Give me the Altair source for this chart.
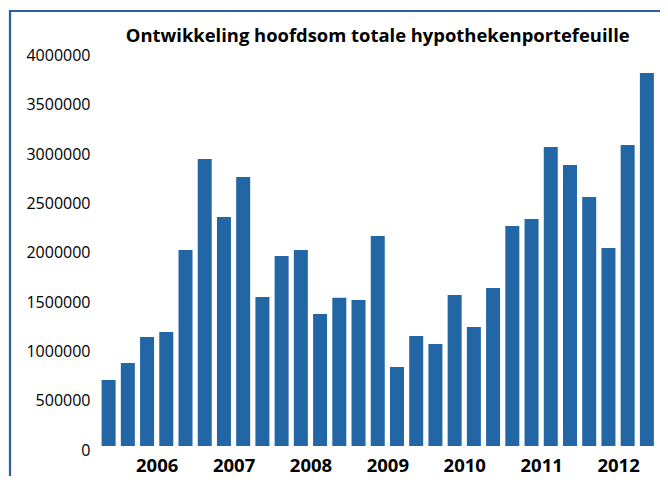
import json
import altair as alt
import pandas as pd

quarters = ["2005-Q4",
            "2006-Q1", "2006-Q2", "2006-Q3", "2006-Q4",
            "2007-Q1", "2007-Q2", "2007-Q3", "2007-Q4",
            "2008-Q1", "2008-Q2", "2008-Q3", "2008-Q4",
            "2009-Q1", "2009-Q2", "2009-Q3", "2009-Q4",
            "2010-Q1", "2010-Q2", "2010-Q3", "2010-Q4",
            "2011-Q1", "2011-Q2", "2011-Q3", "2011-Q4",
            "2012-Q1", "2012-Q2", "2012-Q3", "2012-Q4"]
values = [670000,
          842000, 1105000, 1156000, 1988000,
          2911000, 2323000, 2728000, 1511000,
          1927000, 1988000, 1339000, 1504000,
          1481000, 2130000, 801000, 1116000,
          1034000, 1531000, 1207000, 1602000,
          2231000, 2302000, 3032000, 2850000,
          2525000, 2008000, 3053000, 3783000]
year_labels = ["2006", "2007", "2008", "2009", "2010", "2011", "2012"]
year_positions = [2.5, 6.5, 10.5, 14.5, 18.5, 22.5, 26.5]
y_ticks = [0, 500000, 1000000, 1500000, 2000000, 2500000, 3000000, 3500000, 4000000]
title_text = "Ontwikkeling hoofdsom totale hypothekenportefeuille"

df = pd.DataFrame({"quarter": quarters, "idx": list(range(len(quarters))), "value": values})

W, H = 557.5, 394.4
FONT = "Open Sans"

label_expr = f"{json.dumps(year_labels)}[round((datum.value - 2.5) / 4)]"

bars = alt.Chart(df).mark_bar(color="#2366a5", size=14).encode(
    x=alt.X("idx:Q",
            scale=alt.Scale(domain=[-0.5, len(quarters) - 0.5], nice=False, zero=False, padding=0),
            axis=alt.Axis(values=year_positions, labelExpr=label_expr, title=None,
                          domain=False, ticks=False, grid=False,
                          labelFont=FONT, labelFontSize=18.5, labelFontWeight="bold",
                          labelColor="#000000", labelBaseline="alphabetic",
                          labelPadding=25.5)),
    y=alt.Y("value:Q",
            scale=alt.Scale(domain=[0, 4000000], nice=False),
            axis=alt.Axis(values=y_ticks, format="d", title=None,
                          domain=False, ticks=False, grid=False,
                          labelFont=FONT, labelFontSize=16, labelColor="#000000",
                          labelBaseline="middle", labelOffset=4, labelPadding=9)),
    tooltip=["quarter", "value"],
)

title_df = pd.DataFrame({"t": [title_text]})
title = alt.Chart(title_df).mark_text(
    font=FONT, fontSize=18.4, fontWeight="bold", color="#000000",
    align="center", baseline="alphabetic",
).encode(text="t:N", x=alt.value(W / 2), y=alt.value(-9.9))

frame_df = pd.DataFrame({"k": [0]})
frame_color = "#2e5caa"
top_line = alt.Chart(frame_df).mark_rule(color=frame_color, strokeWidth=2.2).encode(
    x=alt.value(-90), x2=alt.value(575), y=alt.value(-40.6))
left_line = alt.Chart(frame_df).mark_rule(color=frame_color, strokeWidth=2.2).encode(
    x=alt.value(-89), y=alt.value(-41.6), y2=alt.value(440))

chart = alt.layer(bars, title, top_line, left_line).properties(
    width=W, height=H,
    autosize=alt.AutoSizeParams(type="none"),
    padding={"left": 91, "top": 43.6, "right": 3, "bottom": 30},
    background="#ffffff",
).configure_view(stroke=None)

chart.save("out.html", embed_options={"renderer": "svg", "actions": False})
